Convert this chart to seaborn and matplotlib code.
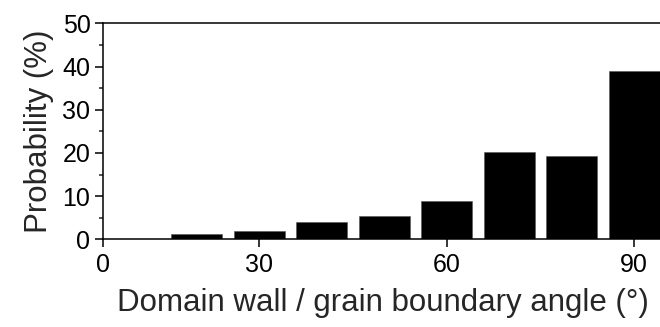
import numpy as np
import pandas as pd
import matplotlib
matplotlib.use("Agg")
import matplotlib.pyplot as plt
from matplotlib.ticker import MultipleLocator
import seaborn as sns

# ==== DATA ====
angles = [20, 30, 40, 50, 60, 70, 80, 90]
probability = [1.2, 1.9, 4.0, 5.5, 8.9, 20.3, 19.4, 39.0]

xtick_pos = [5, 30, 60, 90]
xtick_labels = ["0", "30", "60", "90"]
ytick_pos = [0, 10, 20, 30, 40, 50]

df = pd.DataFrame({"angle": angles, "prob": probability})

# ==== STYLE ====
sns.set_style("ticks")
plt.rcParams["font.family"] = ["Liberation Sans", "DejaVu Sans"]
plt.rcParams["axes.linewidth"] = 1.1

fig = plt.figure(figsize=(6.6, 3.27), dpi=100)
# axes runs past the right edge, as in the cropped original
ax = fig.add_axes([0.156, 0.268, 0.8996, 0.6606])

sns.barplot(data=df, x="angle", y="prob", native_scale=True, width=0.81,
            color="black", saturation=1, edgecolor="#555555", linewidth=0.4,
            ax=ax)

ax.set_xlim(5, 100)
ax.set_ylim(0, 50)
ax.set_xticks(xtick_pos)
ax.set_xticklabels(xtick_labels)
ax.set_yticks(ytick_pos)
ax.yaxis.set_minor_locator(MultipleLocator(5))

ax.tick_params(axis="both", which="major", direction="out", length=6,
               width=1.1, labelsize=18, color="black", labelcolor="black")
ax.tick_params(axis="y", which="minor", direction="out", length=3, width=1.1)
ax.tick_params(axis="x", pad=4)
ax.tick_params(axis="y", pad=3)

for s in ax.spines.values():
    s.set_color("black")

ax.set_xlabel("Domain wall / grain boundary angle (°)", fontsize=22.5, labelpad=8)
ax.xaxis.label.set_x(0.472)
ax.set_ylabel("Probability (%)", fontsize=22.5, labelpad=6)

fig.savefig("out.png", dpi=100)
